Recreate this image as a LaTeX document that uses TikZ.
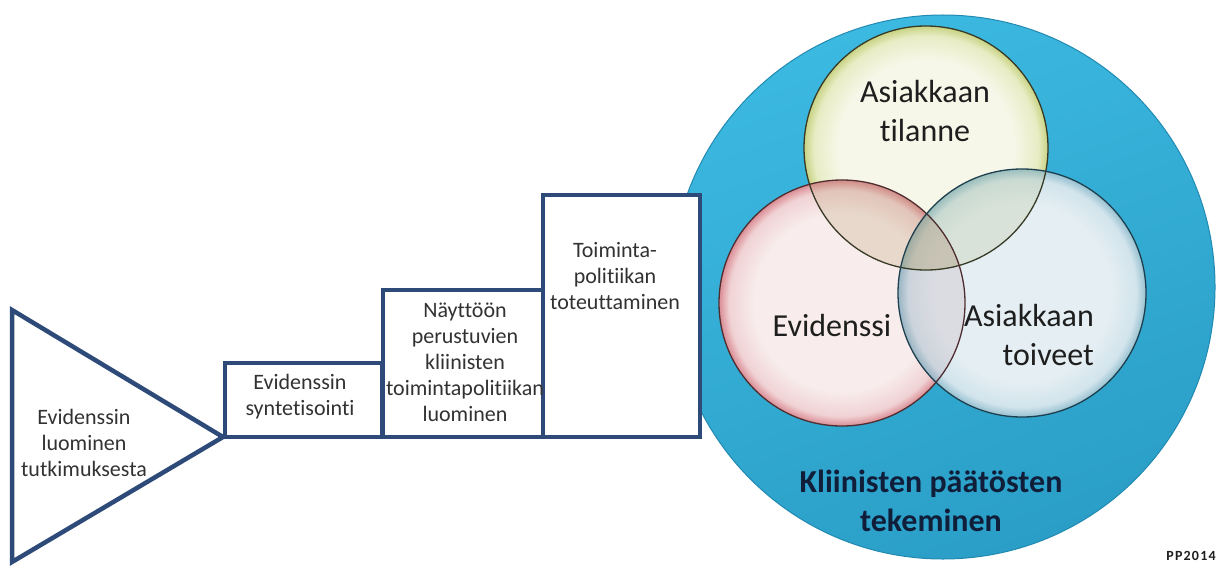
\documentclass[tikz,border=0pt]{standalone}
\usepackage{fontspec}
\setmainfont{Carlito}[Ligatures=NoCommon]
\definecolor{boxblue}{RGB}{46,74,120}
\definecolor{txtgray}{RGB}{50,50,50}
\definecolor{txtdark}{RGB}{30,30,30}
\definecolor{navy}{RGB}{16,30,58}
\definecolor{bigtop}{RGB}{60,185,225}
\definecolor{bigbot}{RGB}{42,158,198}
\definecolor{bigedge}{RGB}{34,138,178}
\definecolor{yin}{RGB}{246,247,232}
\definecolor{ymid}{RGB}{232,236,196}
\definecolor{yrim}{RGB}{200,210,130}
\definecolor{pin}{RGB}{248,236,236}
\definecolor{pmid}{RGB}{240,210,212}
\definecolor{prim}{RGB}{218,140,148}
\definecolor{bin}{RGB}{228,238,243}
\definecolor{bmid}{RGB}{210,228,236}
\definecolor{brim}{RGB}{150,192,208}
\definecolor{tintyr}{RGB}{170,140,80}
\definecolor{tintyb}{RGB}{170,180,110}
\definecolor{tintrb}{RGB}{170,120,130}
\pgfdeclareradialshading{ysh}{\pgfpoint{0bp}{0bp}}{color(0bp)=(yin); color(18bp)=(yin); color(23bp)=(ymid); color(25bp)=(yrim); color(50bp)=(yrim)}
\pgfdeclareradialshading{psh}{\pgfpoint{0bp}{0bp}}{color(0bp)=(pin); color(18bp)=(pin); color(23bp)=(pmid); color(25bp)=(prim); color(50bp)=(prim)}
\pgfdeclareradialshading{bsh}{\pgfpoint{0bp}{0bp}}{color(0bp)=(bin); color(18bp)=(bin); color(23bp)=(bmid); color(25bp)=(brim); color(50bp)=(brim)}
\begin{document}
\begin{tikzpicture}[x=1pt,y=-1pt,
  boxline/.style={draw=boxblue, line width=4.5pt, fill=white, line join=miter},
  vennline/.style={line width=1.3pt},
  smalltxt/.style={font=\fontsize{22}{26}\selectfont, text=txtgray, align=center, inner sep=0pt},
  bigtxt/.style={font=\fontsize{32}{39}\selectfont, text=txtdark, inner sep=0pt}]
\useasboundingbox (0,0) rectangle (1222,567);
% big circle
\shade[top color=bigtop, bottom color=bigbot, shading angle=20] (943,287) circle[radius=272pt];
\draw[bigedge, line width=1pt] (943,287) circle[radius=272pt];
% venn circles
\shade[shading=ysh] (926,148) circle[radius=122pt];
\shade[shading=psh] (842,303) circle[radius=123pt];
\shade[shading=bsh] (1022,293) circle[radius=124pt];
% overlaps
\begin{scope}
  \clip (926,148) circle[radius=122pt];
  \fill[tintyr, fill opacity=0.2] (842,303) circle[radius=123pt];
  \fill[tintyb, fill opacity=0.2] (1022,293) circle[radius=124pt];
\end{scope}
\begin{scope}
  \clip (842,303) circle[radius=123pt];
  \fill[tintrb, fill opacity=0.15] (1022,293) circle[radius=124pt];
\end{scope}
\draw[vennline, draw={rgb,255:red,55;green,58;blue,36}] (926,148) circle[radius=122pt];
\draw[vennline, draw={rgb,255:red,80;green,45;blue,48}] (842,303) circle[radius=123pt];
\draw[vennline, draw={rgb,255:red,30;green,64;blue,78}] (1022,293) circle[radius=124pt];
% triangle and boxes
\draw[boxline] (12,310) -- (223,437) -- (12,562) -- cycle;
\draw[boxline] (225,363) rectangle (382,437);
\draw[boxline] (383,290) rectangle (543,437);
\draw[boxline] (543,195) rectangle (700,437);
% texts
\node[smalltxt] (t1) at (84,443) {Evidenssin\\luominen\\tutkimuksesta};
\node[smalltxt] (t2) at (300,397) {Evidenssin\\syntetisointi};
\node[smalltxt] (t3) at (465,362) {Näyttöön\\perustuvien\\kliinisten\\toimintapolitiikan\\luominen};
\node[smalltxt] (t4) at (615,276) {Toiminta-\\politiikan\\toteuttaminen};
\node[bigtxt, align=center] (v1) at (925,111) {Asiakkaan\\tilanne};
\node[bigtxt] (v2) at (832,326) {Evidenssi};
\node[bigtxt, align=right, anchor=east] (v3) at (1094,335) {Asiakkaan\\toiveet};
\node[font=\bfseries\fontsize{32}{39}\selectfont, text=navy, align=center, inner sep=0pt] (k) at (931,501) {Kliinisten päätösten\\tekeminen};
\node[font=\bfseries\fontsize{14}{16}\selectfont, text=txtdark, inner sep=0pt] (pp) at (1191,556) {P\kern1.2pt P\kern1.2pt 2\kern1.2pt 0\kern1.2pt 1\kern1.2pt 4};
\end{tikzpicture}
\end{document}
